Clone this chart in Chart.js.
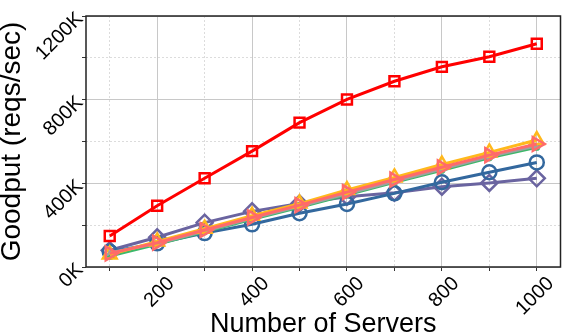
<!DOCTYPE html>
<html>
<head>
<meta charset="utf-8">
<script src="https://cdn.jsdelivr.net/npm/chart.js@4/dist/chart.umd.min.js"></script>
<style>
  body { margin: 0; background: #fff; }
  #wrap { width: 571px; height: 334px; position: relative; }
</style>
</head>
<body>
<div id="wrap"><canvas id="goodput"></canvas></div>
<script>
// number of servers
const servers = [100, 200, 300, 400, 500, 600, 700, 800, 900, 1000];

// goodput, in thousands of reqs/sec
const redSquares = [148, 293, 424, 554, 690, 801, 888, 957, 1005, 1067];
const pinkTriangles = [65, 116, 177, 237, 296, 358, 418, 477, 535, 588];
const yellowTriangles = [60, 122, 183, 245, 303, 368, 428, 490, 548, 607];
const grayCrosses = [68, 112, 172, 233, 290, 350, 410, 468, 528, 580];
const greenStars = [52, 108, 168, 228, 286, 345, 405, 462, 522, 572];
const blueCircles = [73, 113, 162, 204, 257, 301, 352, 405, 453, 500];
const purpleDiamonds = [80, 142, 212, 266, 304, 336, 355, 384, 402, 424];

// tick labels
const xTickLabels = ["200", "400", "600", "800", "1000"];
const yTickLabels = ["0K", "400K", "800K", "1200K"];

function pts(vals) {
  return servers.map(function(s, i) { return { x: s, y: vals[i] }; });
}

function series(vals, color, style, radius, width, rot) {
  return {
    data: pts(vals),
    borderColor: color,
    backgroundColor: "rgba(0,0,0,0)",
    borderWidth: width,
    pointStyle: style,
    pointRadius: radius,
    pointBorderWidth: 2.5,
    pointBorderColor: color,
    pointBackgroundColor: "rgba(0,0,0,0)",
    pointRotation: rot || 0,
    tension: 0
  };
}

// ticks on every server count (stepSize would start them at min=50)
function serverTicks(s) {
  s.ticks = servers.map(function(v) { return { value: v }; });
}

// draws the dark frame round the plot
const frame = {
  id: "frame",
  afterDraw: function(chart) {
    const a = chart.chartArea, c = chart.ctx;
    c.save();
    c.strokeStyle = "#222";
    c.lineWidth = 1.5;
    c.strokeRect(a.left, a.top, a.right - a.left, a.bottom - a.top);
    c.restore();
  }
};

const ctx = document.getElementById("goodput").getContext("2d");
const chart = new Chart(ctx, {
  type: "line",
  data: {
    datasets: [
      series(redSquares, "#ff0000", "rect", 7, 3),
      series(pinkTriangles, "#ff6a6a", "triangle", 8, 3, 90),
      series(yellowTriangles, "#ffb81c", "triangle", 8, 3),
      series(grayCrosses, "#a0a0a0", "crossRot", 4, 3),
      series(greenStars, "#3cb86a", "star", 3.5, 3),
      series(blueCircles, "#33689e", "circle", 7, 3),
      series(purpleDiamonds, "#6a64a0", "rectRot", 8, 3)
    ]
  },
  plugins: [frame],
  options: {
    responsive: true,
    maintainAspectRatio: false,
    animation: false,
    layout: { padding: { top: 16, right: 9, left: 0, bottom: 0 } },
    plugins: { legend: { display: false }, tooltip: { enabled: false } },
    scales: {
      x: {
        type: "linear",
        min: 50,
        max: 1050,
        afterBuildTicks: serverTicks,
        border: { display: false },
        grid: {
          color: function(c) { return c.tick && c.tick.value % 200 === 0 ? "#c8c8c8" : "rgba(0,0,0,0)"; },
          lineWidth: 1,
          tickColor: "#333",
          tickLength: 4
        },
        ticks: {
          autoSkip: false,
          minRotation: 45,
          maxRotation: 45,
          labelOffset: 14,
          padding: 1,
          color: "#000",
          font: { family: "Liberation Sans, Arial, sans-serif", size: 20 },
          callback: function(v) { return xTickLabels.indexOf(String(v)) >= 0 ? String(v) : ""; }
        },
        title: {
          display: true,
          text: "Number of Servers",
          color: "#000",
          font: { family: "Liberation Sans, Arial, sans-serif", size: 27, lineHeight: 0.7 },
          padding: { top: 0, bottom: 0 }
        },
        afterFit: function(s) { s.height = 67; s.paddingLeft = 0; s.paddingRight = 0; }
      },
      xMinor: {
        type: "linear",
        position: "top",
        min: 50,
        max: 1050,
        afterBuildTicks: serverTicks,
        border: { display: false, dash: [2, 2] },
        grid: {
          color: function(c) { return c.tick && c.tick.value % 200 === 100 ? "#dcdcdc" : "rgba(0,0,0,0)"; },
          drawTicks: false
        },
        ticks: { display: false },
        afterFit: function(s) { s.height = 0; s.paddingLeft = 0; s.paddingRight = 0; }
      },
      y: {
        min: 0,
        max: 1200,
        border: { display: false },
        grid: {
          color: function(c) { return c.tick && c.tick.value % 400 === 0 ? "#c8c8c8" : "rgba(0,0,0,0)"; },
          tickColor: "#333",
          tickLength: 4
        },
        ticks: {
          stepSize: 200,
          autoSkip: false,
          minRotation: 45,
          maxRotation: 45,
          padding: 2,
          color: "#000",
          font: { family: "Liberation Sans, Arial, sans-serif", size: 20 },
          callback: function(v) { return yTickLabels.indexOf(v + "K") >= 0 ? v + "K" : ""; }
        },
        title: {
          display: true,
          text: "Goodput (reqs/sec)",
          color: "#000",
          font: { family: "Liberation Sans, Arial, sans-serif", size: 28, lineHeight: 0.9 },
          padding: { top: 0, bottom: 0 }
        },
        afterFit: function(s) { s.width = 86; s.paddingTop = 0; s.paddingBottom = 0; }
      },
      yMinor: {
        position: "right",
        min: 0,
        max: 1200,
        border: { display: false, dash: [2, 2] },
        grid: {
          color: function(c) { return c.tick && c.tick.value % 400 === 200 ? "#dcdcdc" : "rgba(0,0,0,0)"; },
          drawTicks: false
        },
        ticks: { display: false, stepSize: 200 },
        afterFit: function(s) { s.width = 0; s.paddingTop = 0; s.paddingBottom = 0; }
      }
    }
  }
});
</script>
</body>
</html>
